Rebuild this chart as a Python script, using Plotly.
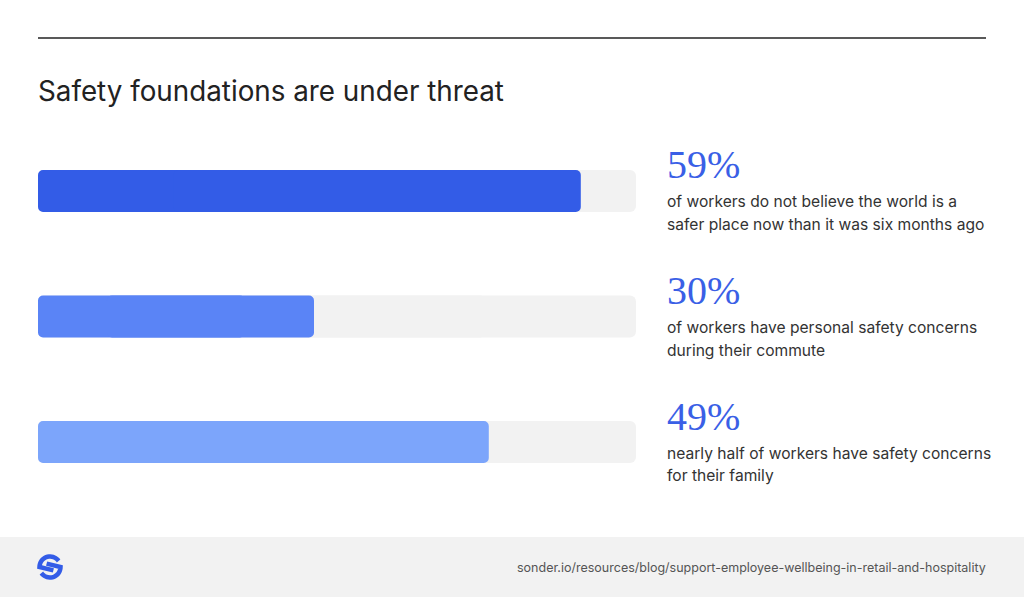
import numpy as np
import plotly.graph_objects as go

W, H = 1024, 597

# data
values = [59, 30, 49]
pct_labels = ["59%", "30%", "49%"]
descriptions = [
    ["of workers do not believe the world is a", "safer place now than it was six months ago"],
    ["of workers have personal safety concerns", "during their commute"],
    ["nearly half of workers have safety concerns", "for their family"],
]
bar_colors = ["#335ce7", "#5a84f6", "#7ca5fb"]
track_max = 65
title = "Safety foundations are under threat"
source = "sonder.io/resources/blog/support-employee-wellbeing-in-retail-and-hospitality"


def px(x):
    return x / W


def py(y):
    return 1 - y / H


pos = list(range(len(values)))


def rounded_bar(fig, vals, color, radius):
    # two overlapping pieces, one rounded at each end
    fig.add_trace(go.Bar(
        x=[-0.75 * v for v in vals], base=[0.75 * v for v in vals], y=pos,
        orientation="h", width=0.335,
        marker=dict(color=color, cornerradius=radius, line=dict(width=0)),
        hoverinfo="skip",
    ))
    fig.add_trace(go.Bar(
        x=[0.75 * v for v in vals], base=[0.25 * v for v in vals], y=pos,
        orientation="h", width=0.335,
        marker=dict(color=color, cornerradius=radius, line=dict(width=0)),
        hoverinfo="skip",
    ))


fig = go.Figure()
rounded_bar(fig, [track_max] * len(values), "#f2f2f2", 6)
rounded_bar(fig, values, bar_colors, 5)

# big numbers and descriptions beside each bar
for i, (lab, desc) in enumerate(zip(pct_labels, descriptions)):
    fig.add_annotation(x=px(665), xref="paper", y=i, yref="y", yshift=26,
                       text=lab, showarrow=False, xanchor="left", yanchor="middle",
                       font=dict(family="Liberation Serif", size=40, color="#3a5fe6"))
    for k, line in enumerate(desc):
        fig.add_annotation(x=px(665), xref="paper", y=i, yref="y", yshift=-11 - 22.5 * k,
                           text=line, showarrow=False, xanchor="left", yanchor="middle",
                           font=dict(family="Inter", size=15.6, color="#333333"))

fig.add_annotation(x=px(36), y=py(91), xref="paper", yref="paper", text=title,
                   showarrow=False, xanchor="left", yanchor="middle",
                   font=dict(family="Inter", size=27.8, color="#222222"))
fig.add_annotation(x=px(988), y=py(567), xref="paper", yref="paper", text=source,
                   showarrow=False, xanchor="right", yanchor="middle",
                   font=dict(family="Inter", size=12.5, color="#555555"))

shapes = [
    dict(type="line", xref="paper", yref="paper", x0=px(38), x1=px(986),
         y0=py(38), y1=py(38), line=dict(color="#222222", width=1.5)),
    dict(type="rect", xref="paper", yref="paper", x0=0, x1=1, y0=0, y1=py(537),
         fillcolor="#f2f2f2", line=dict(width=0), layer="below"),
]

# logo: two interlocking hooks inside a circle
cx, cy, r = 50, 567, 10.5
for rot in (0, np.pi):
    t = np.linspace(np.radians(35), np.pi, 20) + rot
    xs = cx + r * np.cos(t)
    ys = cy - r * np.sin(t)
    xs = np.append(xs, cx + 4 * np.cos(rot + np.radians(-45)) * 1.2)
    ys = np.append(ys, cy - 4 * np.sin(rot + np.radians(-45)) * 1.2)
    path = "M " + " L ".join(f"{px(a):.5f},{py(b):.5f}" for a, b in zip(xs, ys))
    shapes.append(dict(type="path", xref="paper", yref="paper", path=path,
                       line=dict(color="#335ce7", width=4.5)))

fig.update_layout(
    width=W, height=H, margin=dict(l=0, r=0, t=0, b=0),
    paper_bgcolor="white", plot_bgcolor="white",
    barmode="overlay", showlegend=False, shapes=shapes,
    xaxis=dict(domain=[px(38), px(636)], range=[0, track_max], visible=False),
    yaxis=dict(domain=[py(504.75), py(128.25)], range=[2.5, -0.5], visible=False),
)

fig.write_html("out.html", config={"displayModeBar": False},
               post_script="document.body.style.margin='0';")
